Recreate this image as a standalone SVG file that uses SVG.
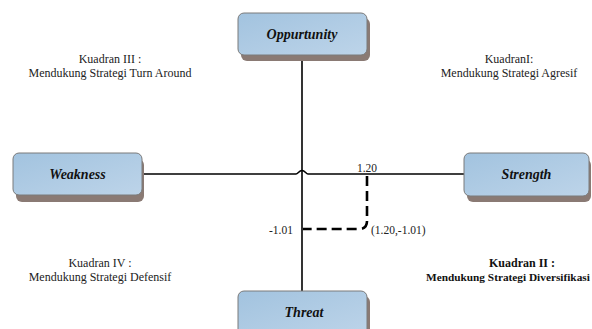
<svg xmlns="http://www.w3.org/2000/svg" width="592" height="329" viewBox="0 0 592 329">
<defs>
<linearGradient id="boxfill" x1="0" y1="0" x2="1" y2="1">
<stop offset="0" stop-color="#a2c3df"/>
<stop offset="1" stop-color="#bdd4e9"/>
</linearGradient>
<style>
.shadow{fill:#8a7a74}
.box{fill:url(#boxfill);stroke:#7a7a7a;stroke-width:1}
.lbl{font-family:"Liberation Serif","Times New Roman",serif;font-weight:bold;font-style:italic;font-size:14px;fill:#111;text-anchor:middle}
.q{font-family:"Liberation Serif","Times New Roman",serif;font-size:12px;fill:#222;text-anchor:middle}
.qb{font-family:"Liberation Serif","Times New Roman",serif;font-size:12px;font-weight:bold;fill:#111}
.num{font-family:"Liberation Serif","Times New Roman",serif;font-size:11.5px;fill:#222}
.axis{fill:none;stroke:#000;stroke-width:1.6}
.dash{fill:none;stroke:#000;stroke-width:2.6;stroke-dasharray:10 5}
</style>
</defs>
<rect width="592" height="329" fill="#fff"/>
<g id="connectors">
<path class="axis" d="M302,55 V291"/>
<path class="axis" d="M142,174 H296 C298,174 299,170.5 302,170.5 C305,170.5 306,174 308,174 H464"/>
<path class="dash" d="M367,176 V221 Q367,229 359,229 H303"/>
</g>
<g id="node-opportunity">
<rect class="shadow" x="241" y="18" width="129" height="43" rx="6"/>
<rect class="box" x="238" y="13" width="129" height="42" rx="6"/>
<text class="lbl" x="302" y="39">Oppurtunity</text>
</g>
<g id="node-weakness">
<rect class="shadow" x="16" y="159" width="128" height="43" rx="6"/>
<rect class="box" x="13" y="153" width="129" height="42" rx="6"/>
<text class="lbl" x="77.5" y="179">Weakness</text>
</g>
<g id="node-strength">
<rect class="shadow" x="467" y="159" width="124" height="43" rx="6"/>
<rect class="box" x="464" y="153" width="125" height="43" rx="6"/>
<text class="lbl" x="526.5" y="179">Strength</text>
</g>
<g id="node-threat">
<rect class="shadow" x="241" y="296" width="129" height="45" rx="6"/>
<rect class="box" x="238" y="291" width="129" height="45" rx="6"/>
<text class="lbl" x="304" y="317">Threat</text>
</g>
<g id="labels">
<text class="num" x="367" y="172" text-anchor="middle">1.20</text>
<text class="num" x="293" y="234" text-anchor="end">-1.01</text>
<text class="num" x="371" y="234">(1.20,-1.01)</text>
<text class="q" x="110" y="63">Kuadran III :</text>
<text class="q" x="110" y="77">Mendukung Strategi Turn Around</text>
<text class="q" x="509" y="63">KuadranI:</text>
<text class="q" x="509" y="77">Mendukung Strategi Agresif</text>
<text class="q" x="100" y="267">Kuadran IV :</text>
<text class="q" x="100" y="281">Mendukung Strategi Defensif</text>
<text class="qb" x="522" y="267" text-anchor="middle">Kuadran II :</text>
<text class="qb" x="426" y="281" style="font-size:11.3px">Mendukung Strategi Diversifikasi</text>
</g>
</svg>
